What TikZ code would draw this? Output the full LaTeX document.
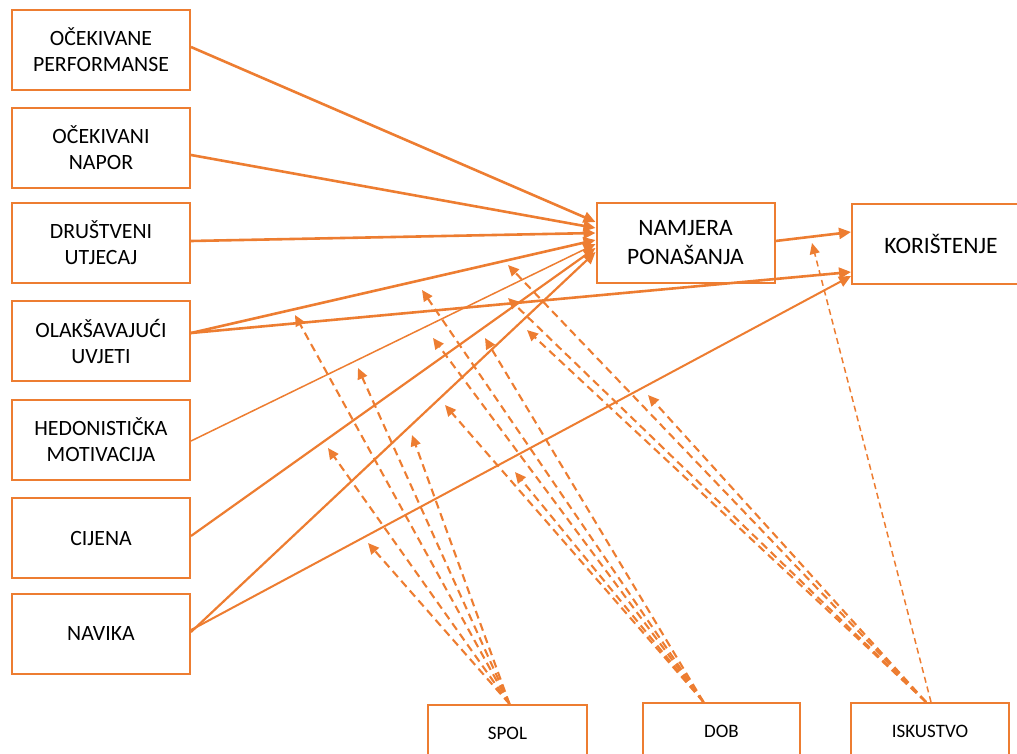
\documentclass[tikz,border=0pt]{standalone}
\usepackage{fontspec}
\setmainfont{Carlito}
\usepackage{xcolor}
\usetikzlibrary{arrows.meta}
\definecolor{ora}{HTML}{ED7D31}

\begin{document}
\begin{tikzpicture}[x=1pt,y=-1pt,
  box/.style={draw=ora,line width=2pt,minimum width=178pt,minimum height=80pt,
    align=center,inner sep=2pt,font=\fontsize{21.8}{26}\selectfont},
  bigbox/.style={box,font=\fontsize{23.5}{29}\selectfont},
  modbox/.style={box,minimum width=158pt,minimum height=56pt,font=\fontsize{19}{23}\selectfont},
  link/.style={draw=ora,line width=2.6pt,-{Triangle[length=12pt,width=11pt]}},
  thinlink/.style={link,line width=1.5pt},
  mod/.style={draw=ora,line width=2.1pt,dash pattern=on 8pt off 5pt,-{Triangle[length=11pt,width=10pt]}}]
\useasboundingbox (0,0) rectangle (1017,754);
\clip (0,0) rectangle (1017,754);

\node[box] (perf) at (101,50) {OČEKIVANE\\PERFORMANSE};
\node[box] (napor) at (101,148) {OČEKIVANI\\NAPOR};
\node[box] (drustveni) at (101,243) {DRUŠTVENI\\UTJECAJ};
\node[box] (olak) at (101,341) {OLAKŠAVAJUĆI\\UVJETI};
\node[box] (hedon) at (101,440) {HEDONISTIČKA\\MOTIVACIJA};
\node[box] (cijena) at (101,538) {CIJENA};
\node[box] (navika) at (101,633.5) {NAVIKA};

\node[bigbox] (namjera) at (685.5,243) {NAMJERA\\PONAŠANJA};
\node[bigbox] (koristenje) at (941,244) {KORIŠTENJE};

\node[modbox,minimum width=159pt] (spol) at (507.5,733) {SPOL};
\node[modbox,minimum width=157pt] (dob) at (721.5,731) {DOB};
\node[modbox] (iskustvo) at (930,731) {ISKUSTVO};

\draw[link] ([yshift=3pt]perf.east) -- ([yshift=21pt]namjera.west);
\draw[link] ([yshift=-7pt]napor.east) -- ([yshift=15pt]namjera.west);
\draw[link] ([yshift=2pt]drustveni.east) -- ([yshift=10pt]namjera.west);
\draw[link] ([yshift=8pt]olak.east) -- ([yshift=3pt]namjera.west);
\draw[thinlink] ([yshift=-1pt]hedon.east) -- ([yshift=-1pt]namjera.west);
\draw[link,line width=2.2pt] ([yshift=2pt]cijena.east) -- ([yshift=-5pt]namjera.west);
\draw[link,line width=2.2pt] ([yshift=1.5pt]navika.east) -- ([yshift=-9pt]namjera.west);

\draw[link] ([yshift=2pt]namjera.east) -- ([yshift=12pt]koristenje.west);
\draw[link] ([yshift=8pt]olak.east) -- ([yshift=-28pt]koristenje.west);
\draw[link,line width=2pt] ([yshift=3.5pt]navika.east) -- ([yshift=-32pt]koristenje.west);

\coordinate (olak-spol) at (295,315);
\coordinate (hedon-spol) at (358,368);
\coordinate (cijena-spol) at (328,448);
\coordinate (navika-spol) at (412,435);
\coordinate (navikaK-spol) at (368,543);

\coordinate (olak-dob) at (422,290);
\coordinate (hedon-dob) at (433,338);
\coordinate (cijena-dob) at (485,338);
\coordinate (navika-dob) at (445,405);
\coordinate (navikaK-dob) at (515,472);

\coordinate (olak-isk) at (508,265);
\coordinate (olakK-isk) at (508,298);
\coordinate (hedon-isk) at (527,330);
\coordinate (navikaK-isk) at (648,395);
\coordinate (namjera-isk) at (812,243);

\foreach \t in {olak,hedon,cijena,navika,navikaK}
  \draw[mod] ([xshift=2pt]spol.north) -- (\t-spol);
\foreach \t in {olak,hedon,cijena,navika,navikaK}
  \draw[mod] ([xshift=-18pt]dob.north) -- (\t-dob);
\foreach \t in {olak,olakK,hedon,navikaK}
  \draw[mod] ([xshift=-4pt]iskustvo.north) -- (\t-isk);
\draw[mod,line width=1.5pt,dash pattern=on 6pt off 4pt] ([xshift=1pt]iskustvo.north) -- (namjera-isk);
\end{tikzpicture}
\end{document}
